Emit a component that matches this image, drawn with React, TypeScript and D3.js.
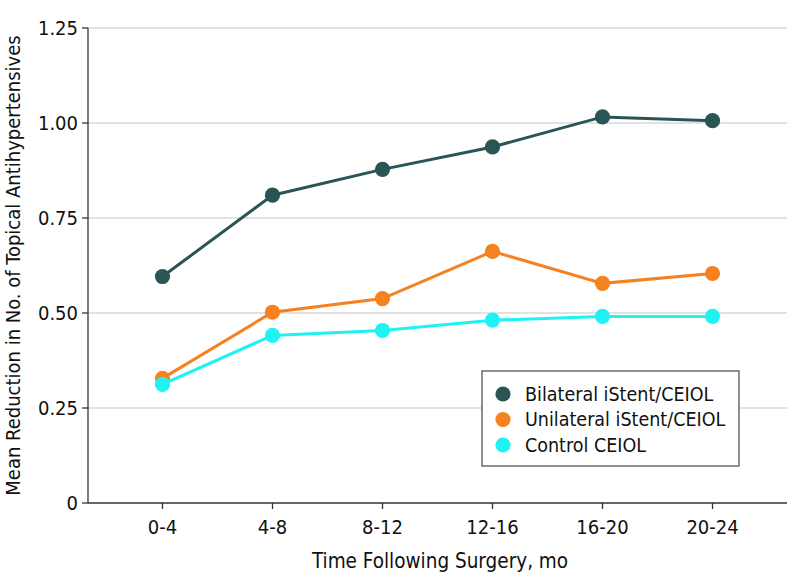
import React from "react";
import * as d3 from "d3";

const categories = ["0-4", "4-8", "8-12", "12-16", "16-20", "20-24"];
const bilateral = [0.596, 0.81, 0.878, 0.937, 1.016, 1.006];
const unilateral = [0.328, 0.502, 0.538, 0.662, 0.578, 0.604];
const control = [0.312, 0.441, 0.454, 0.481, 0.491, 0.491];
const yTicks = [0, 0.25, 0.5, 0.75, 1.0, 1.25];
const seriesNames = ["Bilateral iStent/CEIOL", "Unilateral iStent/CEIOL", "Control CEIOL"];
const seriesColors = ["#2b5455", "#f5811f", "#1ff2f2"];

const W = 794;
const H = 588;
const FONT = "'DejaVu Sans Condensed', 'Liberation Sans Narrow', sans-serif";

export default function App() {
  const left = 88, right = 787, top = 28, bottom = 503;
  const x = d3.scalePoint<string>().domain(categories).range([left, right]).padding(0.677);
  const y = d3.scaleLinear().domain([0, 1.25]).range([bottom, top]);
  const series = [bilateral, unilateral, control];
  const line = d3.line<number>().x((_, i) => x(categories[i]) as number).y((d) => y(d));
  const fmt = (v: number) => (v === 0 ? "0" : v.toFixed(2));

  return (
    <svg width={W} height={H} style={{ position: "absolute", left: 0, top: 0 }} fontFamily={FONT}>
      <rect x={0} y={0} width={W} height={H} fill="#fff" />
      {yTicks.filter((t) => t > 0).map((t) => (
        <line key={t} x1={left} x2={right} y1={y(t)} y2={y(t)} stroke="#d9d9d9" strokeWidth={1.5} />
      ))}
      <line x1={left} x2={left} y1={top} y2={bottom} stroke="#333" strokeWidth={1.3} />
      <line x1={left} x2={right} y1={bottom} y2={bottom} stroke="#333" strokeWidth={1.3} />
      {yTicks.map((t) => (
        <g key={t}>
          <line x1={left - 6} x2={left} y1={y(t)} y2={y(t)} stroke="#333" strokeWidth={1.3} />
          <text x={left - 10} y={y(t)} dy="0.35em" textAnchor="end" fontSize={20} fill="#111">
            {fmt(t)}
          </text>
        </g>
      ))}
      {categories.map((c) => (
        <g key={c}>
          <line x1={x(c)} x2={x(c)} y1={bottom} y2={bottom + 6} stroke="#333" strokeWidth={1.3} />
          <text x={x(c)} y={bottom + 31} textAnchor="middle" fontSize={20} fill="#111">
            {c}
          </text>
        </g>
      ))}
      <text x={440} y={568} textAnchor="middle" fontSize={20.5} fill="#111">
        Time Following Surgery, mo
      </text>
      <text
        transform={`translate(20, ${(top + bottom) / 2}) rotate(-90)`}
        textAnchor="middle"
        fontSize={20}
        fill="#111"
      >
        Mean Reduction in No. of Topical Antihypertensives
      </text>
      {series.map((s, si) => (
        <g key={si}>
          <path d={line(s) || ""} fill="none" stroke={seriesColors[si]} strokeWidth={3} />
          {s.map((v, i) => (
            <circle key={i} cx={x(categories[i])} cy={y(v)} r={7.6} fill={seriesColors[si]} />
          ))}
        </g>
      ))}
      <rect x={482} y={371} width={257} height={95} fill="#fff" stroke="#555" strokeWidth={1.3} />
      {seriesNames.map((n, i) => (
        <g key={n}>
          <circle cx={503} cy={394 + i * 25.5} r={7.6} fill={seriesColors[i]} />
          <text x={525} y={394 + i * 25.5} dy="0.35em" fontSize={19.5} fill="#111">
            {n}
          </text>
        </g>
      ))}
    </svg>
  );
}
